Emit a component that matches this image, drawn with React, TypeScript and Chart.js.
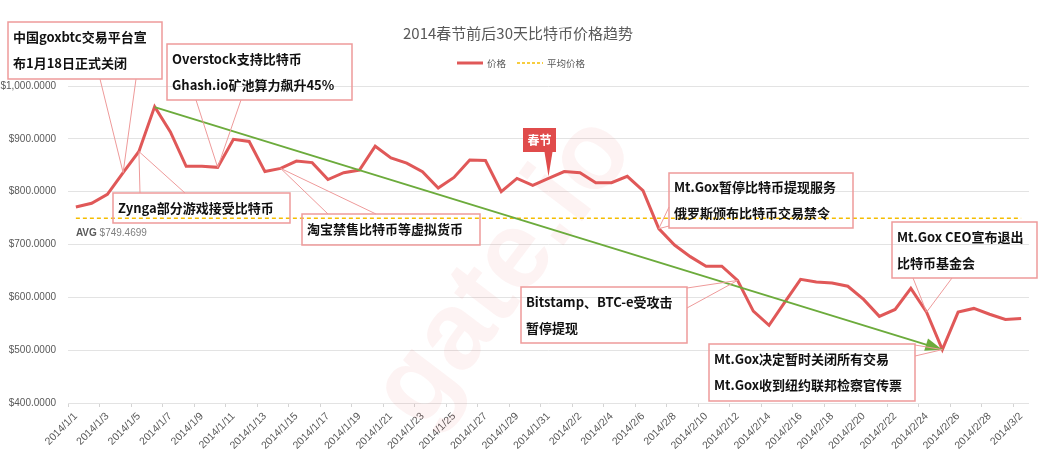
import React, { useEffect, useRef } from 'react';
import { Chart, registerables } from 'chart.js';

Chart.register(...registerables);

// ---------- data ----------
const DATES: string[] = [
  '2014/1/1', '2014/1/2', '2014/1/3', '2014/1/4', '2014/1/5', '2014/1/6', '2014/1/7', '2014/1/8',
  '2014/1/9', '2014/1/10', '2014/1/11', '2014/1/12', '2014/1/13', '2014/1/14', '2014/1/15', '2014/1/16',
  '2014/1/17', '2014/1/18', '2014/1/19', '2014/1/20', '2014/1/21', '2014/1/22', '2014/1/23', '2014/1/24',
  '2014/1/25', '2014/1/26', '2014/1/27', '2014/1/28', '2014/1/29', '2014/1/30', '2014/1/31',
  '2014/2/1', '2014/2/2', '2014/2/3', '2014/2/4', '2014/2/5', '2014/2/6', '2014/2/7', '2014/2/8',
  '2014/2/9', '2014/2/10', '2014/2/11', '2014/2/12', '2014/2/13', '2014/2/14', '2014/2/15', '2014/2/16',
  '2014/2/17', '2014/2/18', '2014/2/19', '2014/2/20', '2014/2/21', '2014/2/22', '2014/2/23', '2014/2/24',
  '2014/2/25', '2014/2/26', '2014/2/27', '2014/2/28', '2014/3/1', '2014/3/2',
];

const PRICES: number[] = [
  771, 778, 795, 836, 876, 961, 913, 848, 848, 846,
  899, 895, 838, 844, 858, 855, 823, 836, 841, 886,
  864, 854, 838, 807, 827, 860, 859, 800, 825, 812,
  825, 838, 836, 817, 817, 829, 802, 730, 699, 677,
  659, 659, 632, 574, 547, 591, 634, 629, 627, 621,
  596, 564, 577, 617, 572, 501, 572, 579, 568, 558,
  560,
];

const AVG_PRICE = 749.4699;
const AVG_SERIES: number[] = DATES.map(() => AVG_PRICE);

// trend arrow: from the January peak to the Feb 25 low
const TREND_INDEX: number[] = [5, 55];
const TREND_VALUES: number[] = [960, 501];
const TREND_SERIES: (number | null)[] = DATES.map((_, i) => {
  const k = TREND_INDEX.indexOf(i);
  return k >= 0 ? TREND_VALUES[k] : null;
});

const Y_MIN = 400;
const Y_MAX = 1000;
const Y_STEP = 100;

const TITLE = '2014春节前后30天比特币价格趋势';
const LEGEND_LABELS: string[] = ['价格', '平均价格'];
const AVG_LABEL_PREFIX = 'AVG';

const NOTE_TEXTS: string[][] = [
  ['中国goxbtc交易平台宣', '布1月18日正式关闭'],
  ['Overstock支持比特币', 'Ghash.io矿池算力飙升45%'],
  ['Zynga部分游戏接受比特币'],
  ['淘宝禁售比特币等虚拟货币'],
  ['Mt.Gox暂停比特币提现服务', '俄罗斯颁布比特币交易禁令'],
  ['Mt.Gox CEO宣布退出', '比特币基金会'],
  ['Bitstamp、BTC-e受攻击', '暂停提现'],
  ['Mt.Gox决定暂时关闭所有交易', 'Mt.Gox收到纽约联邦检察官传票'],
];
const NOTE_TARGETS: number[] = [3, 9, 4, 13, 37, 54, 42, 55];

const FESTIVAL_TEXT = '春节';
const FESTIVAL_TARGET = 30;

// ---------- layout (pixels) ----------
const NOTE_LAYOUT = [
  { box: [8, 22, 154, 57], base: [[100, 79], [136, 79]] },
  { box: [167, 44, 185, 56], base: [[196, 100], [241, 100]] },
  { box: [113, 193, 177, 30], base: [[140, 193], [185, 193]] },
  { box: [302, 214, 178, 31], base: [[328, 214], [376, 214]] },
  { box: [669, 173, 184, 55], base: [[669, 207], [669, 226]] },
  { box: [892, 222, 145, 56], base: [[913, 278], [952, 278]] },
  { box: [521, 287, 166, 56], base: [[687, 288], [687, 308]] },
  { box: [709, 344, 206, 57], base: [[915, 345], [915, 356]] },
];
const FESTIVAL_BOX = [523, 128, 33, 24];

const RED = '#e05858';
const GREEN = '#6cab3c';
const GOLD = '#f5bd00';
const NOTE_BORDER = '#ee9a9a';
const TEXT_GRAY = '#595959';
const CJK = '"Noto Sans CJK SC", "Noto Sans", sans-serif';
const LATIN = '"Liberation Sans", "DejaVu Sans", sans-serif';

const fmtDollar = (v: number) =>
  '$' + v.toLocaleString('en-US', { minimumFractionDigits: 4, maximumFractionDigits: 4 });

const decorPlugin = {
  id: 'decor',
  beforeDatasetsDraw(chart: any) {
    const { ctx } = chart;
    ctx.save();
    ctx.translate(505, 272);
    ctx.rotate(-0.92);
    ctx.font = `bold 110px ${LATIN}`;
    ctx.fillStyle = 'rgba(230, 90, 90, 0.07)';
    ctx.textAlign = 'center';
    ctx.textBaseline = 'middle';
    ctx.fillText('gate.io', 0, 0);
    ctx.restore();
  },
  afterDatasetsDraw(chart: any) {
    const { ctx, scales } = chart;
    const xs = scales.x;
    const ys = scales.y;

    // arrow head on trend line
    const x0 = xs.getPixelForValue(TREND_INDEX[0]);
    const y0 = ys.getPixelForValue(TREND_VALUES[0]);
    const x1 = xs.getPixelForValue(TREND_INDEX[1]);
    const y1 = ys.getPixelForValue(TREND_VALUES[1]);
    const ang = Math.atan2(y1 - y0, x1 - x0);
    ctx.save();
    ctx.translate(x1, y1);
    ctx.rotate(ang);
    ctx.fillStyle = GREEN;
    ctx.beginPath();
    ctx.moveTo(0, 0);
    ctx.lineTo(-17, -6.5);
    ctx.lineTo(-17, 6.5);
    ctx.closePath();
    ctx.fill();
    ctx.restore();

    // title
    ctx.save();
    ctx.fillStyle = TEXT_GRAY;
    ctx.font = `15px ${CJK}`;
    ctx.textAlign = 'center';
    ctx.textBaseline = 'middle';
    ctx.fillText(TITLE, 518, 33);

    // legend
    ctx.font = `9.5px ${CJK}`;
    ctx.textAlign = 'left';
    ctx.strokeStyle = RED;
    ctx.lineWidth = 3;
    ctx.beginPath();
    ctx.moveTo(457, 63);
    ctx.lineTo(483, 63);
    ctx.stroke();
    ctx.fillText(LEGEND_LABELS[0], 487, 63);
    ctx.strokeStyle = GOLD;
    ctx.lineWidth = 1.5;
    ctx.setLineDash([3, 2]);
    ctx.beginPath();
    ctx.moveTo(517, 63);
    ctx.lineTo(543, 63);
    ctx.stroke();
    ctx.setLineDash([]);
    ctx.fillText(LEGEND_LABELS[1], 547, 63);

    // average label
    const avgY = ys.getPixelForValue(AVG_PRICE);
    const ax = xs.getPixelForValue(0);
    ctx.font = `bold 10px ${LATIN}`;
    ctx.fillStyle = TEXT_GRAY;
    ctx.fillText(AVG_LABEL_PREFIX, ax, avgY + 15);
    const w = ctx.measureText(AVG_LABEL_PREFIX + ' ').width;
    ctx.font = `10px ${LATIN}`;
    ctx.fillStyle = '#808080';
    ctx.fillText(fmtDollar(AVG_PRICE), ax + w, avgY + 15);
    ctx.restore();

    // callouts
    ctx.save();
    NOTE_TEXTS.forEach((lines, i) => {
      const lay = NOTE_LAYOUT[i];
      const [bx, by, bw, bh] = lay.box;
      const tx = xs.getPixelForValue(NOTE_TARGETS[i]);
      const ty = ys.getPixelForValue(PRICES[NOTE_TARGETS[i]]);
      ctx.strokeStyle = NOTE_BORDER;
      ctx.lineWidth = 1.5;
      ctx.strokeRect(bx, by, bw, bh);
      ctx.lineWidth = 1;
      ctx.beginPath();
      lay.base.forEach(([px, py]) => {
        ctx.moveTo(px, py);
        ctx.lineTo(tx, ty);
      });
      ctx.stroke();
      ctx.fillStyle = '#111';
      ctx.font = `bold 13px ${CJK}`;
      ctx.textAlign = 'left';
      ctx.textBaseline = 'middle';
      const cy = by + bh / 2;
      lines.forEach((t, k) => {
        ctx.fillText(t, bx + 5, cy + (k - (lines.length - 1) / 2) * 26);
      });
    });

    // festival marker
    const fx = xs.getPixelForValue(FESTIVAL_TARGET);
    const fy = ys.getPixelForValue(PRICES[FESTIVAL_TARGET]);
    const [fbx, fby, fbw, fbh] = FESTIVAL_BOX;
    ctx.fillStyle = '#e04b4b';
    ctx.fillRect(fbx, fby, fbw, fbh);
    ctx.beginPath();
    ctx.moveTo(fx - 4, fby + fbh);
    ctx.lineTo(fx + 4, fby + fbh);
    ctx.lineTo(fx, fy - 2);
    ctx.closePath();
    ctx.fill();
    ctx.fillStyle = '#fff';
    ctx.font = `bold 12px ${CJK}`;
    ctx.textAlign = 'center';
    ctx.textBaseline = 'middle';
    ctx.fillText(FESTIVAL_TEXT, fbx + fbw / 2, fby + fbh / 2);
    ctx.restore();
  },
};

export default function App() {
  const ref = useRef<HTMLCanvasElement>(null);
  useEffect(() => {
    const chart = new Chart(ref.current!, {
      type: 'line',
      data: {
        labels: DATES,
        datasets: [
          {
            label: 'trend',
            data: TREND_SERIES,
            borderColor: GREEN,
            borderWidth: 2,
            pointRadius: 0,
            spanGaps: true,
            order: 0,
          },
          {
            label: LEGEND_LABELS[0],
            data: PRICES,
            borderColor: RED,
            borderWidth: 3,
            pointRadius: 0,
            tension: 0,
            order: 1,
          },
          {
            label: LEGEND_LABELS[1],
            data: AVG_SERIES,
            borderColor: GOLD,
            borderWidth: 1.5,
            borderDash: [4, 3],
            pointRadius: 0,
            order: 2,
          },
        ],
      },
      options: {
        animation: false,
        responsive: true,
        maintainAspectRatio: false,
        layout: { padding: { top: 86, right: 25, left: 0, bottom: 0 } },
        plugins: {
          legend: { display: false },
          title: { display: false },
          tooltip: { enabled: false },
        },
        scales: {
          x: {
            offset: true,
            border: { display: false },
            grid: {
              offset: true,
              drawOnChartArea: false,
              tickLength: 4,
              color: (c: any) => (c.index % 2 === 0 ? '#d4d4d4' : 'rgba(0,0,0,0)'),
            },
            ticks: {
              autoSkip: false,
              minRotation: 45,
              maxRotation: 45,
              padding: 3,
              color: TEXT_GRAY,
              font: { size: 10.5, family: LATIN },
              callback: (_v: any, i: number) => (i % 2 === 0 ? DATES[i] : ''),
            },
            afterFit: (s: any) => {
              s.height = 68;
            },
          },
          y: {
            min: Y_MIN,
            max: Y_MAX,
            border: { display: false },
            grid: { color: '#e3e3e3', drawTicks: false },
            ticks: {
              stepSize: Y_STEP,
              padding: 12,
              color: TEXT_GRAY,
              font: { size: 10, family: LATIN },
              callback: (v: any) => fmtDollar(Number(v)),
            },
            afterFit: (s: any) => {
              s.width = 68;
            },
          },
        },
      },
      plugins: [decorPlugin],
    });
    return () => chart.destroy();
  }, []);
  return (
    <div style={{ position: 'absolute', left: 0, top: 0, width: 1054, height: 471, background: '#fff' }}>
      <canvas ref={ref} />
    </div>
  );
}
